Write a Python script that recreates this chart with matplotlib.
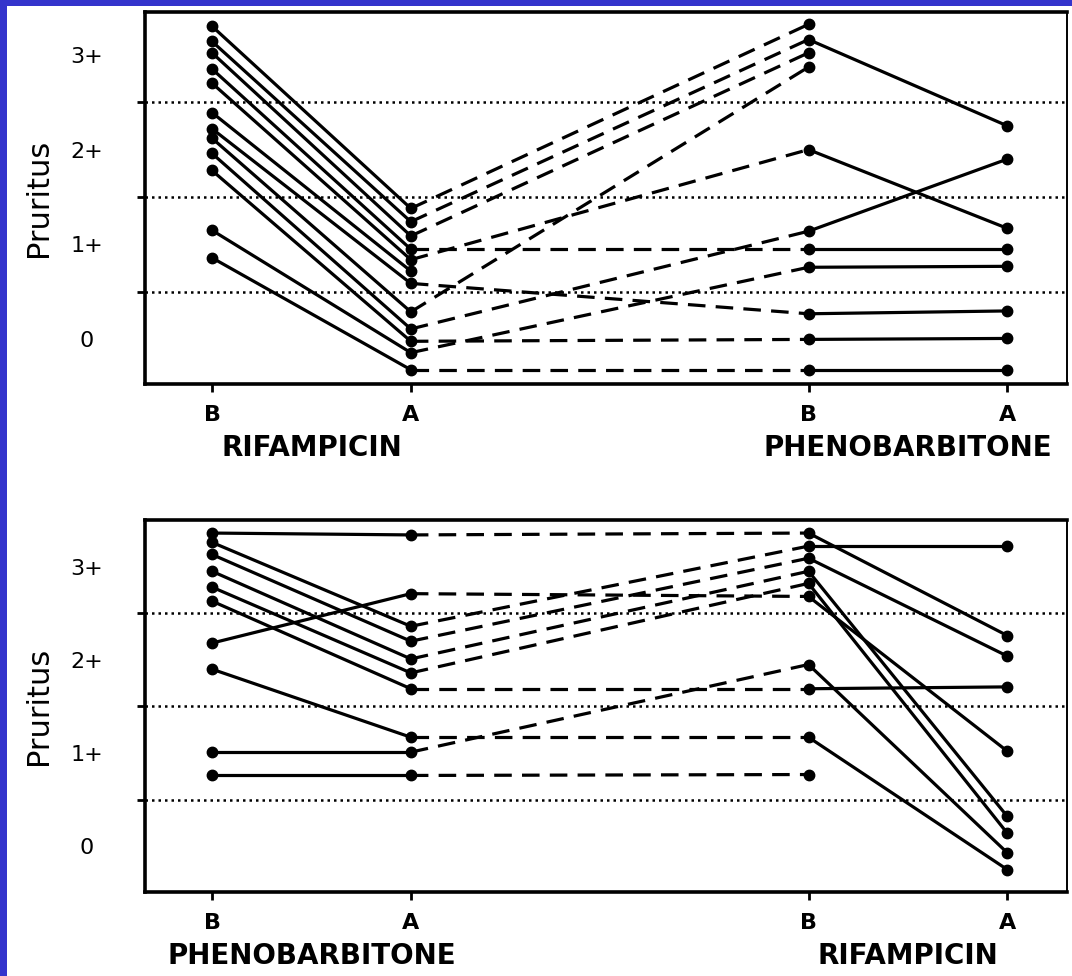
import numpy as np
import matplotlib
matplotlib.use("Agg")
import matplotlib.pyplot as plt
from matplotlib.patches import Rectangle

nan = np.nan

# visit labels along x, and the drug pairs under them
visit_labels = ["B", "A", "B", "A"]
top_drugs = ["RIFAMPICIN", "PHENOBARBITONE"]
bottom_drugs = ["PHENOBARBITONE", "RIFAMPICIN"]
score_labels = ["0", "1+", "2+", "3+"]

# pruritus score per patient: before/after first drug, before/after second drug
top_b1 = [3.30, 3.14, 3.02, 2.85, 2.70, 2.39, 2.22, 2.12, 1.96, 1.78, 1.15, 0.86]
top_a1 = [1.38, 1.24, 1.09, 0.95, 0.84, 0.72, 0.59, 0.29, 0.11, -0.02, -0.14, -0.32]
top_b2 = [3.32, 3.16, 3.02, 0.95, 2.00, nan, 0.27, 2.87, 1.14, 0.00, 0.76, -0.32]
top_a2 = [nan, 2.25, nan, 0.95, 1.17, nan, 0.30, nan, 1.90, 0.01, 0.77, -0.32]

bot_b1 = [3.36, 3.26, 3.13, 2.95, 2.78, 2.18, 2.63, 1.90, 1.01, 0.76]
bot_a1 = [3.34, 2.36, 2.20, 2.01, 1.86, 2.71, 1.69, 1.17, 1.01, 0.76]
bot_b2 = [3.36, 3.22, 3.09, 2.95, 2.82, 2.68, 1.69, 1.17, 1.95, 0.77]
bot_a2 = [2.26, 3.22, 2.04, 0.32, 0.14, 1.02, 1.71, -0.25, -0.07, nan]

XPOS = [0, 1, 3, 4]
BLUE = "#3434cc"
LW = 2.3
DASH = (0, (5.5, 3.2))

fig = plt.figure(figsize=(10.72, 9.76), dpi=100, facecolor="white")
fig.add_artist(Rectangle((0, 0), 7 / 1072, 1, transform=fig.transFigure,
                         facecolor=BLUE, edgecolor="none"))
fig.add_artist(Rectangle((0, 1 - 6 / 976), 1, 6 / 976, transform=fig.transFigure,
                         facecolor=BLUE, edgecolor="none"))


def panel(ax, b1, a1, b2, a2, drugs, ylim):
    ax.set_xlim(-0.337, 4.30)
    ax.set_ylim(*ylim)
    for y in (0.5, 1.5, 2.5):
        ax.axhline(y, color="black", lw=1.8, ls=(0, (1, 1.6)), zorder=1)
    for i in range(len(b1)):
        v = [b1[i], a1[i], b2[i], a2[i]]
        segs = [(0, 1, "-"), (1, 2, DASH), (2, 3, "-")]
        for j, k, ls in segs:
            if not (np.isnan(v[j]) or np.isnan(v[k])):
                ax.plot([XPOS[j], XPOS[k]], [v[j], v[k]], color="black",
                        lw=LW, ls=ls, zorder=2)
        for j in range(4):
            if not np.isnan(v[j]):
                ax.plot(XPOS[j], v[j], "o", color="black", ms=7.5, zorder=3)

    for side, sp in ax.spines.items():
        sp.set_linewidth(1.4 if side == "right" else 2.6)
        sp.set_color("black")

    ax.set_xticks(XPOS)
    ax.set_xticklabels(visit_labels, fontsize=16, fontweight="bold")
    ax.tick_params(axis="x", length=6, width=2, direction="out", pad=9)

    ax.set_yticks([0, 1, 2, 3])
    ax.set_yticklabels(score_labels, fontsize=16)
    ax.set_yticks([0.5, 1.5, 2.5], minor=True)
    ax.tick_params(axis="y", which="major", length=0, pad=42)
    ax.tick_params(axis="y", which="minor", length=6, width=2, direction="out")
    for t in ax.get_yticklabels():
        t.set_horizontalalignment("center")

    tr = ax.get_xaxis_transform()
    ax.text(0.5, -0.172, drugs[0], transform=tr, ha="center", va="center",
            fontsize=20, fontweight="bold")
    ax.text(3.5, -0.172, drugs[1], transform=tr, ha="center", va="center",
            fontsize=20, fontweight="bold")
    ax.text(-0.116, 0.5, "Pruritus", transform=ax.transAxes, rotation=90,
            ha="center", va="center", fontsize=22)


ax1 = fig.add_axes([145 / 1072, 1 - 384 / 976, 922 / 1072, 372 / 976])
panel(ax1, top_b1, top_a1, top_b2, top_a2, top_drugs, (-0.47, 3.45))

ax2 = fig.add_axes([145 / 1072, 1 - 892 / 976, 922 / 1072, 372 / 976])
panel(ax2, bot_b1, bot_a1, bot_b2, bot_a2, bottom_drugs, (-0.49, 3.50))

fig.savefig("out.png", dpi=100, facecolor="white")
